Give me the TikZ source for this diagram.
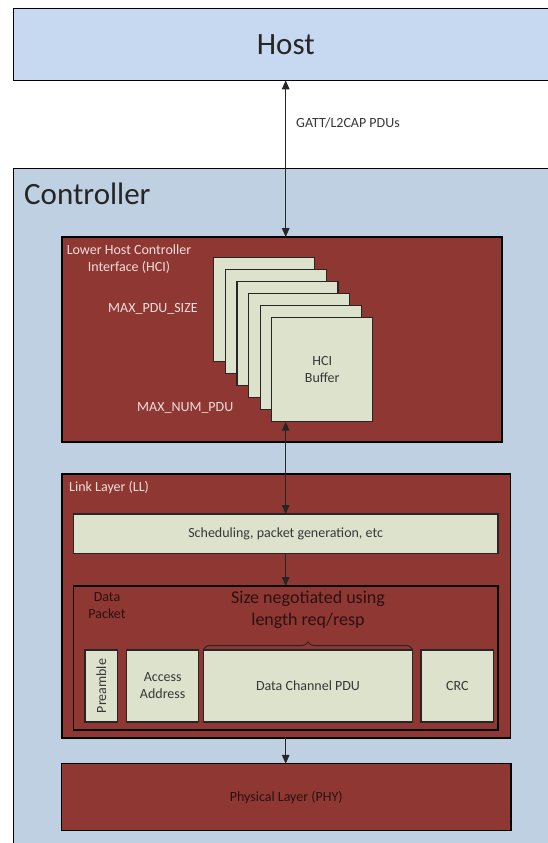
\documentclass[tikz,border=0pt]{standalone}
\usepackage{fontspec}
\setmainfont{Carlito}
\usetikzlibrary{positioning,arrows.meta,calc,decorations.pathreplacing}
\definecolor{HostBlue}{RGB}{198,217,240}
\definecolor{CtrlBlue}{RGB}{190,208,226}
\definecolor{LayerRed}{RGB}{143,55,50}
\definecolor{PaleBox}{RGB}{221,226,205}
\definecolor{PaleText}{RGB}{242,222,220}
\definecolor{DarkText}{RGB}{42,18,16}
\definecolor{InkGrey}{RGB}{55,55,55}
\newcommand\boxfont{\fontsize{14}{17}\selectfont}
\newcommand\notefont{\fontsize{18}{21.7}\selectfont}
\newcommand\titlefont{\fontsize{31}{36}\selectfont}
\tikzset{
  flow/.style={-{Triangle[length=9pt,width=7.5pt]},line width=1.4pt,draw=black!85},
  dflow/.style={{Triangle[length=9pt,width=7.5pt]}-{Triangle[length=9pt,width=7.5pt]},
    line width=1.4pt,draw=black!85},
  area/.style={draw=black,line width=1.2pt,inner sep=0pt,outer sep=0pt,anchor=north west},
  layer/.style={area,fill=LayerRed},
  palebox/.style={area,draw=black!85,fill=PaleBox,align=center,font=\boxfont,text=InkGrey},
  bufbox/.style={palebox,minimum width=101pt,minimum height=104pt},
  paletext/.style={inner sep=0pt,font=\boxfont,text=PaleText,align=center},
  darktext/.style={inner sep=0pt,font=\boxfont,text=DarkText,align=center}
}

\begin{document}
\begin{tikzpicture}[x=1pt,y=-1pt]
  \clip (0,0) rectangle (548,843);
  \fill[white] (0,0) rectangle (548,843);
  % host and controller
  \node[area,fill=HostBlue,minimum width=545pt,minimum height=72pt,
    font=\titlefont,text=black!85] (host) at (13.3,8.3) {Host};
  \node[area,fill=CtrlBlue,minimum width=545pt,minimum height=690pt] (ctrl) at (13.3,168.7) {};
  \node[anchor=base west,inner sep=0pt,font=\titlefont,text=black!85] (ctrllabel) at (24,204) {Controller};
  \coordinate (axis) at (285.7,0);
  \node[anchor=west,inner sep=0pt,font=\boxfont,text=InkGrey] (gatt) at (296,123) {GATT/L2CAP PDUs};
  % lower HCI
  \node[layer,minimum width=440pt,minimum height=205pt] (hci) at (62,237) {};
  \node[paletext] (hcilabel) at (129,259.5) {Lower Host Controller\\Interface (HCI)};
  \foreach \i in {1,...,5}
    \node[bufbox] (buf\i) at ({213.7+11.6*(\i-1)},{257.7+12*(\i-1)}) {};
  \node[bufbox] (buf6) at (271.7,317.7) {HCI\\Buffer};
  \node[paletext,anchor=west] (pdusize) at (108,309) {MAX\_PDU\_SIZE};
  \node[paletext,anchor=west] (numpdu) at (137,407.7) {MAX\_NUM\_PDU};
  % link layer
  \node[layer,minimum width=448.7pt,minimum height=264pt] (ll) at (62,474) {};
  \node[paletext,anchor=west] (lllabel) at (69,488) {Link Layer (LL)};
  \node[palebox,minimum width=424.7pt,minimum height=39.7pt] (sched) at (73.3,514)
    {Scheduling, packet generation, etc};
  \node[layer,minimum width=424.7pt,minimum height=144pt] (packet) at (73.3,586) {};
  \node[darktext] (packetlabel) at (107,605.5) {Data\\Packet};
  \node[darktext,font=\notefont] (sizenote) at (308,610) {Size negotiated using\\length req/resp};
  \node[palebox,minimum width=32.7pt,minimum height=72pt] (preamble) at (85,650) {};
  \node[darktext,text=InkGrey,rotate=90] (preamblelabel) at (preamble.center) {Preamble};
  \node[palebox,minimum width=72pt,minimum height=72pt] (access) at (126.7,650) {Access\\Address};
  \node[palebox,minimum width=208.6pt,minimum height=72pt] (pdu) at (203.7,650) {Data Channel PDU};
  \node[palebox,minimum width=72.7pt,minimum height=72pt] (crc) at (421,650) {CRC};
  \draw[decorate,decoration={brace,amplitude=7pt},line width=1pt,draw=black!85]
    ($(pdu.north west)+(0,-1)$) -- ($(pdu.north east)+(0,-1)$);
  % physical layer
  \node[layer,minimum width=449.5pt,minimum height=66.8pt,font=\boxfont,text=DarkText] (phy)
    at (61.5,763.8) {Physical Layer (PHY)};
  % connectors
  \draw[dflow] (host.south -| axis) -- (hci.north -| axis);
  \draw[dflow] (buf6.south -| axis) -- (sched.north -| axis);
  \draw[flow] (sched.south -| axis) -- (packet.north -| axis);
  \draw[flow] (ll.south -| axis) -- (phy.north -| axis);
\end{tikzpicture}
\end{document}
